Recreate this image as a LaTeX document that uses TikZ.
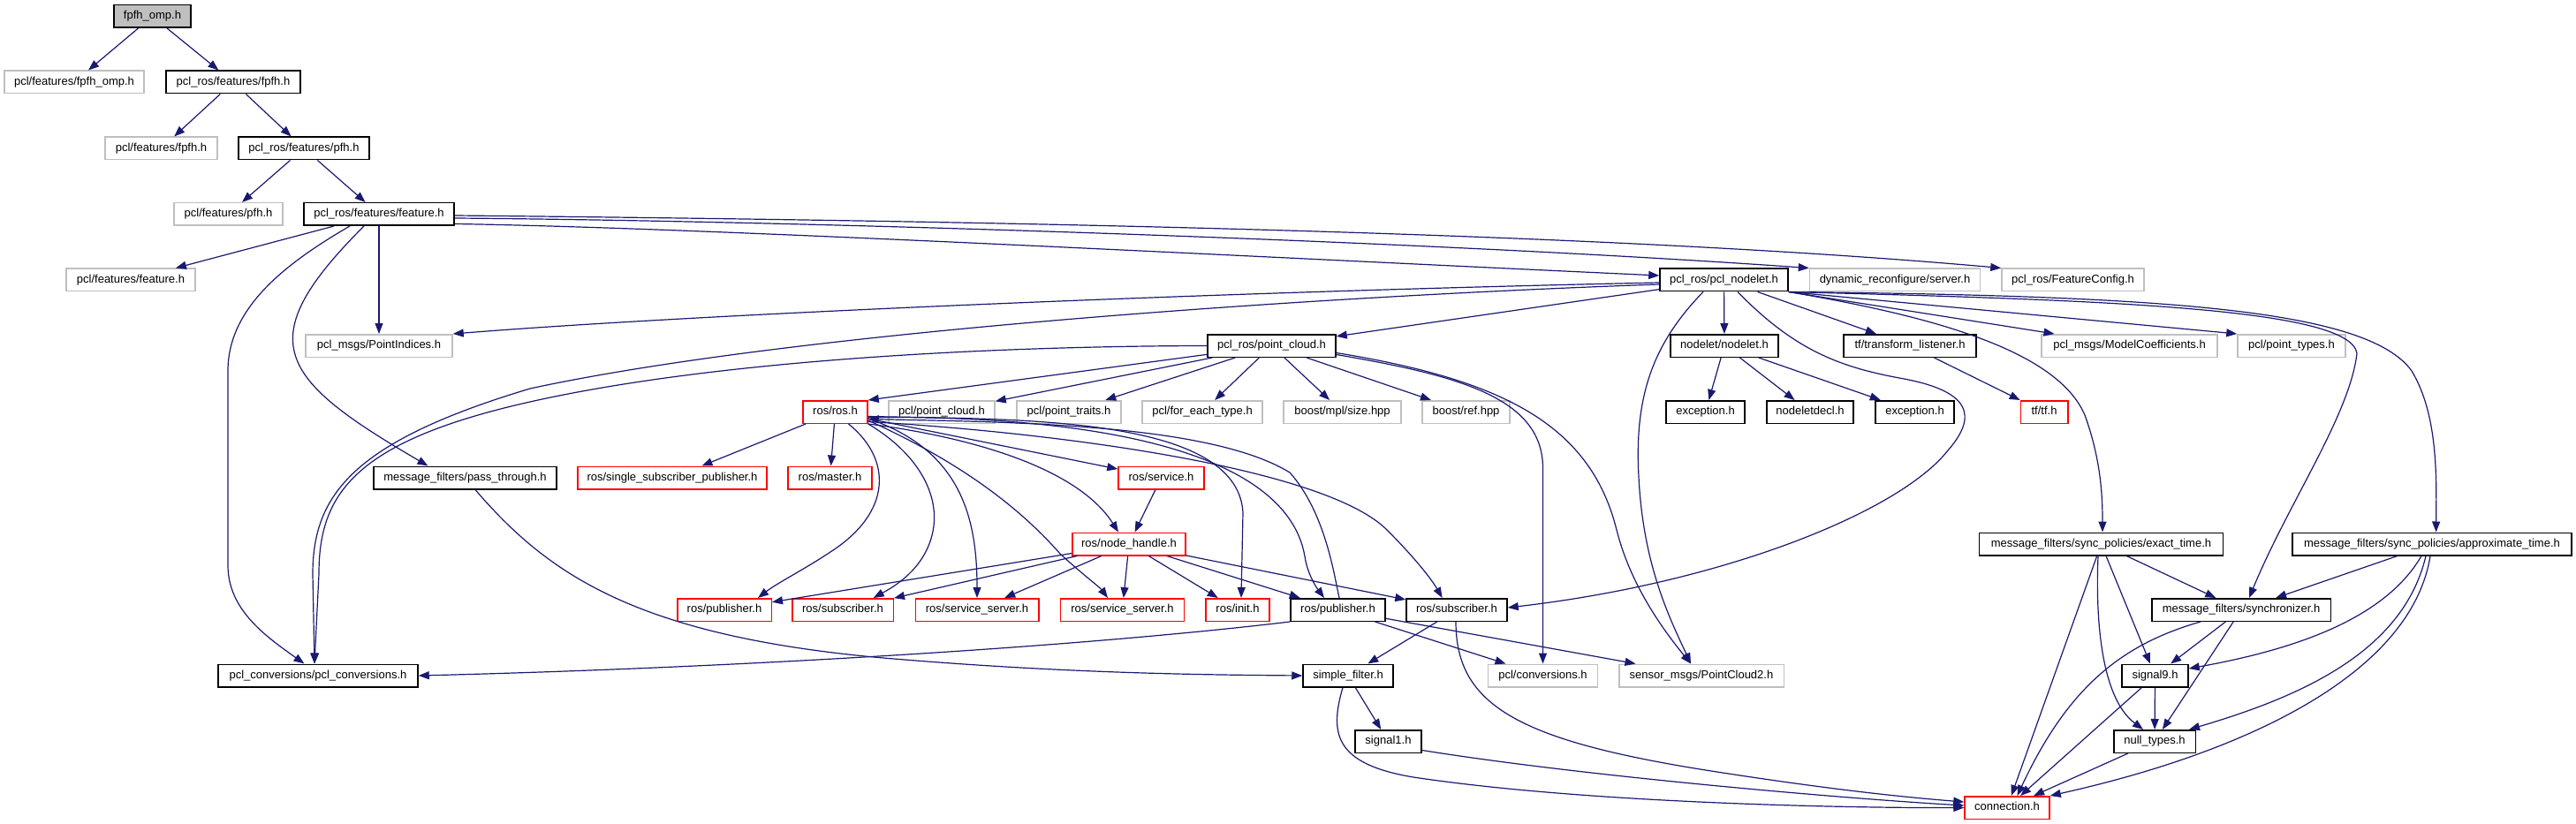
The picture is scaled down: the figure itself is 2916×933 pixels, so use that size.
\documentclass[tikz,border=0pt]{standalone}
\usepackage{fontspec}
\setmainfont{Liberation Sans}
\usetikzlibrary{arrows.meta}
\definecolor{edgec}{HTML}{191970}
\definecolor{grayb}{HTML}{BFBFBF}
\definecolor{redb}{HTML}{FF0000}
\tikzset{
 basebox/.style={rectangle, draw, line width=1.5pt, minimum height=25.5pt, inner sep=0pt,
   font=\fontsize{13}{15}\selectfont, text height=9.5pt, text depth=2.7pt},
 docbox/.style={basebox, draw=black},
 extbox/.style={basebox, draw=grayb},
 trbox/.style={basebox, draw=redb},
 edge/.style={draw=edgec, line width=1.2pt, -{Triangle[length=12pt,width=9pt]}},
}
\begin{document}
\begin{tikzpicture}[x=1pt,y=-1pt]
\useasboundingbox (0,0) rectangle (2916,933);
% nodes
\node[docbox, fill=grayb, minimum width=87pt] (root) at (172.5,18.5) {fpfh\_omp.h};
\node[extbox, minimum width=158pt] (pfo) at (84,93) {pcl/features/fpfh\_omp.h};
\node[docbox, minimum width=152pt] (rfpfh) at (264,93) {pcl\_ros/features/fpfh.h};
\node[extbox, minimum width=127pt] (pfpfh) at (182.5,168) {pcl/features/fpfh.h};
\node[docbox, minimum width=148pt] (rpfh) at (344,168) {pcl\_ros/features/pfh.h};
\node[extbox, minimum width=123pt] (ppfh) at (258.5,242.5) {pcl/features/pfh.h};
\node[docbox, minimum width=170pt] (rfeat) at (429,242.5) {pcl\_ros/features/feature.h};
\node[extbox, minimum width=146pt] (pfeat) at (148,317) {pcl/features/feature.h};
\node[docbox, minimum width=145pt] (nodelet) at (1951.5,317) {pcl\_ros/pcl\_nodelet.h};
\node[extbox, minimum width=193pt] (dyn) at (2145,317) {dynamic\_reconfigure/server.h};
\node[extbox, minimum width=161pt] (fcfg) at (2346.5,317) {pcl\_ros/FeatureConfig.h};
\node[extbox, minimum width=166pt] (pidx) at (429,391.5) {pcl\_msgs/PointIndices.h};
\node[docbox, minimum width=145pt] (pcloud) at (1439.5,391.5) {pcl\_ros/point\_cloud.h};
\node[docbox, minimum width=122pt] (nnodelet) at (1952,391.5) {nodelet/nodelet.h};
\node[docbox, minimum width=150pt] (tfl) at (2162,391.5) {tf/transform\_listener.h};
\node[extbox, minimum width=199pt] (mcoef) at (2410.5,391.5) {pcl\_msgs/ModelCoefficients.h};
\node[extbox, minimum width=122pt] (ptypes) at (2594,391.5) {pcl/point\_types.h};
\node[trbox, minimum width=73pt] (rosh) at (945.5,466.5) {ros/ros.h};
\node[extbox, minimum width=120pt] (ppc) at (1066,466.5) {pcl/point\_cloud.h};
\node[extbox, minimum width=118pt] (ptraits) at (1210,466.5) {pcl/point\_traits.h};
\node[extbox, minimum width=136pt] (feach) at (1361,466.5) {pcl/for\_each\_type.h};
\node[extbox, minimum width=133pt] (bsize) at (1519.5,466.5) {boost/mpl/size.hpp};
\node[extbox, minimum width=99pt] (bref) at (1659.5,466.5) {boost/ref.hpp};
\node[docbox, minimum width=89pt] (exc1) at (1930.5,466.5) {exception.h};
\node[docbox, minimum width=98pt] (ndecl) at (2049,466.5) {nodeletdecl.h};
\node[docbox, minimum width=89pt] (exc2) at (2167.5,466.5) {exception.h};
\node[trbox, minimum width=53.5pt] (tftf) at (2314,466.5) {tf/tf.h};
\node[docbox, minimum width=207pt] (pass) at (526.5,541) {message\_filters/pass\_through.h};
\node[trbox, minimum width=214pt] (ssp) at (761,541) {ros/single\_subscriber\_publisher.h};
\node[trbox, minimum width=95pt] (master) at (939.5,541) {ros/master.h};
\node[trbox, minimum width=97pt] (service) at (1314.5,541) {ros/service.h};
\node[trbox, minimum width=128pt] (nh) at (1278,616) {ros/node\_handle.h};
\node[docbox, minimum width=276pt] (exact) at (2378.5,616) {message\_filters/sync\_policies/exact\_time.h};
\node[docbox, minimum width=316pt] (approx) at (2753,616) {message\_filters/sync\_policies/approximate\_time.h};
\node[trbox, minimum width=106.5pt] (rpub) at (820,690.5) {ros/publisher.h};
\node[trbox, minimum width=114.5pt] (rsub) at (954,690.5) {ros/subscriber.h};
\node[trbox, minimum width=139.5pt] (ssa) at (1106,690.5) {ros/service\_server.h};
\node[trbox, minimum width=140pt] (ssb) at (1270.5,690.5) {ros/service\_server.h};
\node[trbox, minimum width=72pt] (init) at (1401,690.5) {ros/init.h};
\node[docbox, minimum width=107pt] (bpub) at (1514.5,690.5) {ros/publisher.h};
\node[docbox, minimum width=114pt] (bsub) at (1649,690.5) {ros/subscriber.h};
\node[docbox, minimum width=202.5pt] (sync) at (2537,690.5) {message\_filters/synchronizer.h};
\node[docbox, minimum width=226pt] (pconv) at (360,765) {pcl\_conversions/pcl\_conversions.h};
\node[docbox, minimum width=102pt] (sfilt) at (1526,765) {simple\_filter.h};
\node[extbox, minimum width=124pt] (pcconv) at (1746.5,765) {pcl/conversions.h};
\node[extbox, minimum width=186.5pt] (pc2) at (1926,765) {sensor\_msgs/PointCloud2.h};
\node[docbox, minimum width=75pt] (sig9) at (2439.5,765) {signal9.h};
\node[docbox, minimum width=75pt] (sig1) at (1571.5,839.5) {signal1.h};
\node[docbox, minimum width=92.5pt] (nullt) at (2439,839.5) {null\_types.h};
\node[trbox, minimum width=96pt] (conn) at (2272,914.5) {connection.h};
% edges: top chain
\draw[edge] (root) -- (pfo);
\draw[edge] (root) -- (rfpfh);
\draw[edge] (rfpfh) -- (pfpfh);
\draw[edge] (rfpfh) -- (rpfh);
\draw[edge] (rpfh) -- (ppfh);
\draw[edge] (rpfh) -- (rfeat);
% feature.h
\draw[edge] (rfeat) -- (pfeat);
\draw[edge] (rfeat) -- (pidx);
\draw[edge] ([xshift=-17pt]rfeat.south) .. controls (282,386) and (314,428) .. ([xshift=-42pt]pass.north);
\draw[edge] ([xshift=-33pt]rfeat.south) .. controls (320,300) and (258,350) .. (258,420) -- (258,640) .. controls (258,690) and (300,720) .. ([xshift=-15.5pt]pconv.north);
\draw[edge] ([yshift=-11pt]rfeat.east) .. controls (800,258) and (1400,290) .. ([yshift=5pt]nodelet.west);
\draw[edge] ([yshift=-4.5pt]rfeat.east) .. controls (900,250) and (1600,272) .. (dyn.north west);
\draw[edge] ([yshift=-1.5pt]rfeat.east) .. controls (1100,250) and (1800,262) .. (fcfg.north west);
% pcl_nodelet.h
\draw[edge] ([yshift=-3pt]nodelet.west) .. controls (1400,330) and (800,355) .. (pidx.north east);
\draw[edge] ([yshift=-5pt]nodelet.west) .. controls (1500,335) and (900,375) .. (600,440) .. controls (400,500) and (354,560) .. (354,650) -- ([xshift=-4pt]pconv.north);
\draw[edge] (nodelet) -- (pcloud);
\draw[edge] (nodelet) -- (nnodelet);
\draw[edge] (nodelet) -- (tfl);
\draw[edge] ([xshift=15.5pt]nodelet.south) .. controls (2030,395) and (2080,415) .. (2150,428) .. controls (2230,442) and (2240,470) .. (2205,510) .. controls (2150,580) and (1950,660) .. ([yshift=2.5pt]bsub.east);
\draw[edge] ([xshift=-23.5pt]nodelet.south) .. controls (1870,390) and (1850,450) .. (1855,540) .. controls (1860,640) and (1890,700) .. ([xshift=-12pt]pc2.north);
\draw[edge] (nodelet.south east) -- ([xshift=-85pt]mcoef.north);
\draw[edge] (nodelet.south east) -- (ptypes.north west);
\draw[edge] (nodelet.south east) .. controls (2200,360) and (2330,400) .. (2360,470) .. controls (2378,520) and (2380,560) .. ([xshift=1.5pt]exact.north);
\draw[edge] (nodelet.south east) .. controls (2400,340) and (2660,350) .. (2668,400) .. controls (2660,470) and (2590,570) .. ([xshift=9pt]sync.north);
\draw[edge] (nodelet.south east) .. controls (2450,335) and (2680,350) .. (2730,420) .. controls (2760,470) and (2758,540) .. ([xshift=4.6pt]approx.north);
% nodelet.h, transform_listener.h
\draw[edge] (nnodelet) -- (exc1);
\draw[edge] (nnodelet) -- (ndecl);
\draw[edge] (nnodelet) -- (exc2);
\draw[edge] (tfl) -- (tftf);
% point_cloud.h
\draw[edge] (pcloud) -- (rosh.north east);
\draw[edge] (pcloud) -- (ppc);
\draw[edge] (pcloud) -- (ptraits);
\draw[edge] (pcloud) -- (feach);
\draw[edge] (pcloud) -- (bsize);
\draw[edge] (pcloud) -- (bref);
\draw[edge] ([yshift=-10pt]pcloud.east) .. controls (1650,425) and (1746.5,450) .. (1746.5,530) -- (pcconv.north);
\draw[edge] ([yshift=-8pt]pcloud.east) .. controls (1700,430) and (1800,480) .. (1830,600) .. controls (1845,660) and (1880,710) .. ([xshift=-12pt]pc2.north);
\draw[edge] (pcloud.west) .. controls (1100,392) and (800,410) .. (600,455) .. controls (400,500) and (361,560) .. (361,650) -- ([xshift=-4pt]pconv.north);
% ros.h
\draw[edge] (rosh) -- (ssp);
\draw[edge] (rosh) -- (master);
\draw[edge] (rosh) -- (service);
\draw[edge] (rosh.south east) .. controls (1100,495) and (1220,530) .. ([xshift=-12pt]nh.north);
\draw[edge] ([xshift=15pt]rosh.south) .. controls (1010,520) and (1010,580) .. (940,625) .. controls (910,645) and (880,660) .. ([xshift=38pt]rpub.north);
\draw[edge] (rosh.south east) .. controls (1050,520) and (1075,580) .. (1045,630) .. controls (1030,655) and (1005,668) .. ([xshift=34.7pt]rsub.north);
\draw[edge] ([yshift=-7.5pt]rosh.east) .. controls (1090,510) and (1106,590) .. (ssa.north);
\draw[edge] ([yshift=-9.5pt]rosh.east) .. controls (1080,520) and (1150,570) .. (1200,627) .. controls (1225,650) and (1245,665) .. ([xshift=-16.5pt]ssb.north);
\draw[edge] ([yshift=-5pt]rosh.east) .. controls (1150,475) and (1400,470) .. (1407,580) -- ([xshift=4pt]init.north);
\draw[edge] ([yshift=-6pt]rosh.east) .. controls (1300,470) and (1460,530) .. (1477,630) .. controls (1480,650) and (1490,665) .. ([xshift=-15.5pt]bpub.north);
\draw[edge] ([xshift=1.5pt]bpub.north) .. controls (1510,650) and (1500,580) .. (1460,535) .. controls (1370,480) and (1150,478) .. ([yshift=-8pt]rosh.east);
\draw[edge] ([yshift=-11pt]rosh.east) .. controls (1200,490) and (1500,530) .. (1570,600) .. controls (1600,630) and (1620,655) .. ([xshift=-16.4pt]bsub.north);
% service.h, node_handle.h
\draw[edge] (service) -- (nh);
\draw[edge] (nh) -- (rpub);
\draw[edge] (nh) -- (rsub);
\draw[edge] (nh) -- (ssa);
\draw[edge] (nh) -- (ssb);
\draw[edge] (nh) -- (init);
\draw[edge] (nh) -- (bpub);
\draw[edge] (nh) -- (bsub);
% pass_through.h
\draw[edge] ([xshift=11.5pt]pass.south) .. controls (620,650) and (720,720) .. (1000,745) .. controls (1200,762) and (1350,764) .. (sfilt.west);
% publisher.h, subscriber.h
\draw[edge] (bpub.south west) .. controls (1200,735) and (800,757) .. (pconv.east);
\draw[edge] (bpub) -- (pcconv);
\draw[edge] (bpub) -- (pc2);
\draw[edge] (bsub) -- (sfilt);
\draw[edge] ([xshift=-1pt]bsub.south) .. controls (1648,800) and (1720,840) .. (1950,875) .. controls (2080,895) and (2160,903) .. ([yshift=6.5pt]conn.west);
% simple_filter.h, signal1.h
\draw[edge] (sfilt) -- (sig1);
\draw[edge] ([xshift=-6pt]sfilt.south) .. controls (1505,830) and (1510,865) .. (1600,880) .. controls (1800,910) and (2100,915) .. (conn.west);
\draw[edge] ([yshift=-10pt]sig1.east) .. controls (1800,880) and (2100,905) .. ([yshift=2.5pt]conn.west);
% exact_time.h
\draw[edge] (exact) -- (sync);
\draw[edge] (exact) -- (sig9);
\draw[edge] ([xshift=-3.5pt]exact.south) .. controls (2372,700) and (2378,790) .. ([xshift=-13pt]nullt.north);
\draw[edge] (exact) -- (conn);
% approximate_time.h
\draw[edge] (approx) -- (sync);
\draw[edge] ([xshift=-12pt]approx.south) .. controls (2700,700) and (2600,735) .. ([yshift=8pt]sig9.east);
\draw[edge] ([xshift=-7pt]approx.south) .. controls (2720,740) and (2600,790) .. ([xshift=-8pt]nullt.north east);
\draw[edge] ([xshift=-2pt]approx.south) .. controls (2730,760) and (2550,850) .. (conn.north east);
% synchronizer.h, signal9.h, null_types.h
\draw[edge] (sync) -- (sig9);
\draw[edge] (sync) -- (nullt);
\draw[edge] ([xshift=-46pt]sync.south) .. controls (2400,730) and (2340,780) .. ([xshift=11.5pt]conn.north);
\draw[edge] (sig9) -- (nullt);
\draw[edge] (sig9) -- (conn);
\draw[edge] (nullt) -- (conn);
\end{tikzpicture}
\end{document}
